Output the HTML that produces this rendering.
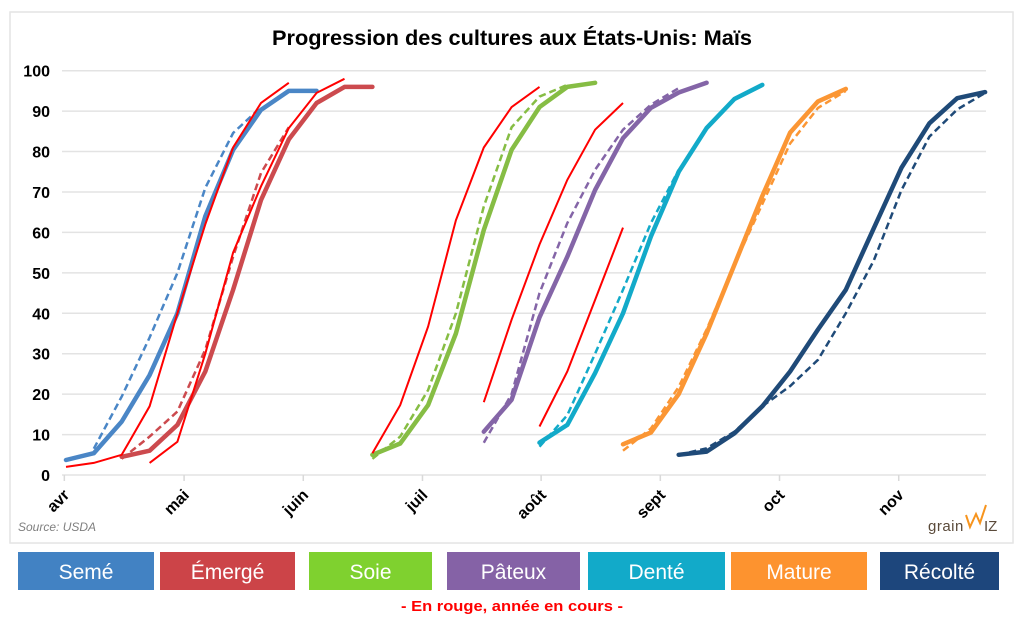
<!DOCTYPE html>
<html><head><meta charset="utf-8">
<style>
html,body{margin:0;padding:0;background:#fff;width:1024px;height:624px;overflow:hidden}
svg{display:block;font-family:"Liberation Sans",sans-serif}
</style></head>
<body>
<svg id="chart" width="1024" height="624" viewBox="0 0 1024 624" xmlns="http://www.w3.org/2000/svg">
<rect x="10" y="12" width="1003" height="531" fill="#fff" stroke="#e4e4e4" stroke-width="1.5"/>
<text x="512" y="45" text-anchor="middle" font-size="21" font-weight="bold" textLength="480" lengthAdjust="spacingAndGlyphs" fill="#000">Progression des cultures aux États-Unis: Maïs</text>
<g id="grid"></g>
<g id="yticks"></g>
<g id="xticks"></g>
<g id="series"></g>
<text x="18" y="531" font-size="12" font-style="italic" fill="#7f7f7f">Source: USDA</text>
<g>
<text x="928" y="531" font-size="15" fill="#5a4a3a" letter-spacing="0.5">grain</text>
<polyline points="966,515 970,527 976,514 980,523 986,505" fill="none" stroke="#f7941d" stroke-width="2"/>
<text x="984" y="531" font-size="15" fill="#5a4a3a">IZ</text>
</g>
<g id="legend"></g>
<text x="512" y="611" text-anchor="middle" font-size="15" font-weight="bold" fill="#ff0000" textLength="222" lengthAdjust="spacingAndGlyphs">- En rouge, année en cours -</text>
</svg>
<script>
// ---- data ----
const yTicks = [0,10,20,30,40,50,60,70,80,90,100];
const monthLabels = ["avr","mai","juin","juil","août","sept","oct","nov"];
const monthWeekPos = [-0.06,4.24,8.52,12.8,17.06,21.34,25.62,29.9];
const stageNames = ["Semé","Émergé","Soie","Pâteux","Denté","Mature","Récolté"];
const stageColors = ["#4282c3","#cc4448","#7fd12f","#8562a6","#12aac9","#fd932f","#1d467c"];
const lineColors = ["#4a86c6","#cc4a4e","#86bd44","#8465a7","#12aac9","#fb9634","#1f4a78"];
// start week index for each series
const solidStart = [0,2,11,15,17,20,22];
const dashStart  = [1,2,11,15,17,20,22];
const redStart   = [0,3,11,15,17];
const semeSolid = [3.7,5.4,13.2,24.7,40,64,80.4,90.3,95,95];
const semeDash  = [6.5,19.4,34,50,71,84.6,91];
const semeRed   = [2,3,5,17,40,62,81,92,97];
const emergeSolid = [4.5,6,12.4,25.6,45.8,68,83,92,96,96];
const emergeDash  = [4,9.5,15.7,31,54,74.7,86];
const emergeRed   = [3,8.2,30,55,71.4,85.8,94.5,98];
const soieSolid = [5,7.8,17.3,35,60.6,80.4,91,96,97];
const soieDash  = [4,9.5,21,40,66.4,86,93.6,96.5];
const soieRed   = [5.4,17.3,36.7,63,81,91,96];
const pateuxSolid = [10.7,18.6,39,54,70.5,83.3,90.8,94.6,97];
const pateuxDash  = [8,20,45,62.3,75.5,85.4,91.6,95.7];
const pateuxRed   = [18,38.4,57,73,85.4,92];
const denteSolid = [8,12.4,25.2,40,59,75,85.8,93,96.5];
const denteDash  = [7,14.8,30,45.8,62.3,75.5];
const denteRed   = [12,25.6,43.3,61.2];
const matureSolid = [7.6,10.5,20,35,52,69,84.7,92.4,95.5];
const matureDash  = [6,11.5,21.8,36,52,67,82,90.8,95];
const recolteSolid = [5,5.8,10.3,17,25.6,36,45.8,61,76,87,93.2,94.7];
const recolteDash  = [5,6.6,10.7,17,22,28.5,40,53,70.5,83.7,90.4,94.5];

const solids = [semeSolid,emergeSolid,soieSolid,pateuxSolid,denteSolid,matureSolid,recolteSolid];
const dashes = [semeDash,emergeDash,soieDash,pateuxDash,denteDash,matureDash,recolteDash];
const reds = [semeRed,emergeRed,soieRed,pateuxRed,denteRed];
const slugs = ["seme","emerge","soie","pateux","dente","mature","recolte"];

// ---- axes ----
const X0=66, XW=27.85, Y0=475, YS=4.043, XR=986;
const xs = w => X0 + w*XW;
const ys = v => Y0 - v*YS;
const NS="http://www.w3.org/2000/svg";
function mk(tag, attrs, parent){const e=document.createElementNS(NS,tag);for(const k in attrs)e.setAttribute(k,attrs[k]);parent.appendChild(e);return e;}

const grid=document.getElementById('grid'), yt=document.getElementById('yticks'), xt=document.getElementById('xticks');
yTicks.forEach(v=>{
  const l=mk('line',{x1:62,x2:XR,y1:ys(v),y2:ys(v),stroke:'#e3e3e3','stroke-width':1.5},grid);
  
  
  const t=mk('text',{x:50,y:ys(v)+6,'text-anchor':'end','font-size':16,'font-weight':'bold',fill:'#000'},yt);
  t.textContent=v;
  
  
});
monthLabels.forEach((m,i)=>{
  const x=xs(monthWeekPos[i]);
  const tk=mk('line',{x1:x,x2:x,y1:Y0,y2:Y0+6,stroke:'#d9d9d9','stroke-width':1.5},xt);
  
  
  const t=mk('text',{x:x+6,y:Y0+21,'text-anchor':'end','font-size':16,'font-weight':'bold',fill:'#000',transform:`rotate(-45 ${x+6} ${Y0+21})`},xt);
  t.textContent=m;
  
  
});

// ---- series ----
const sg=document.getElementById('series');
function pts(arr,start){return arr.map((v,i)=>xs(start+i).toFixed(1)+','+ys(v).toFixed(1)).join(' ');}
for(let i=0;i<7;i++){
  const s=mk('polyline',{points:pts(solids[i],solidStart[i]),fill:'none',stroke:lineColors[i],'stroke-width':4.5,'stroke-linejoin':'round','stroke-linecap':'round'},sg);
  
  
  const d=mk('polyline',{points:pts(dashes[i],dashStart[i]),fill:'none',stroke:lineColors[i],'stroke-width':2.5,'stroke-dasharray':'7,4'},sg);
  
  
}
for(let i=0;i<reds.length;i++){
  const r=mk('polyline',{points:pts(reds[i],redStart[i]),fill:'none',stroke:'#ff0000','stroke-width':2},sg);
  
  
}

// ---- legend buttons ----
const lg=document.getElementById('legend');
const bx=[18,160,309,447,588,731,880], bw=[136,135,123,133,137,136,119];
stageNames.forEach((n,i)=>{
  const g=mk('g',{},lg);
  
  
  mk('rect',{x:bx[i],y:552,width:bw[i],height:38,fill:stageColors[i]},g);
  const t=mk('text',{x:bx[i]+bw[i]/2,y:579,'text-anchor':'middle','font-size':21,fill:'#fff'},g);
  t.textContent=n;
});
</script>
</body></html>
